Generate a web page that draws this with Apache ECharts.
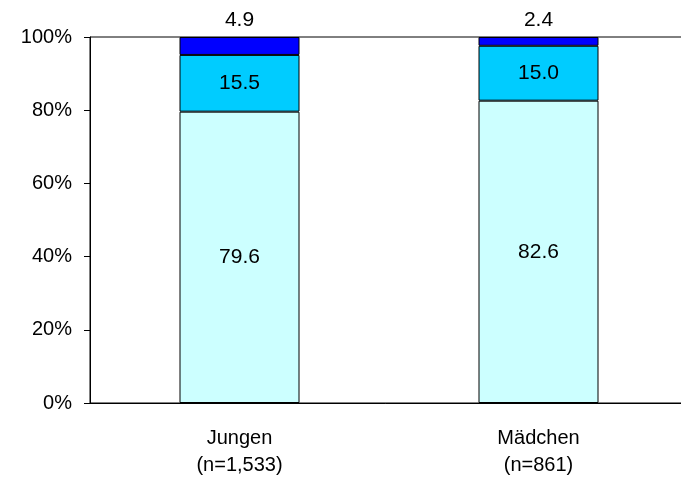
<!DOCTYPE html>
<html>
<head>
<meta charset="utf-8">
<script src="https://cdn.jsdelivr.net/npm/echarts@6/dist/echarts.min.js"></script>
<style>
  html, body { margin: 0; padding: 0; background: #fff; }
  #chart { width: 681px; height: 479px; }
</style>
</head>
<body>
<div id="chart"></div>
<script>
// Categories and stacked shares (percent)
const categories = ['Jungen\n(n=1,533)', 'Mädchen\n(n=861)'];
const lowShare = [79.6, 82.6];
const midShare = [15.5, 15.0];
const topShare = [4.9, 2.4];
const yTicks = [0, 20, 40, 60, 80, 100];

const font = '"Liberation Sans", Arial, sans-serif';
const chart = echarts.init(document.getElementById('chart'), null, { renderer: 'canvas' });

function seg(name, data, color, labelPos) {
  return {
    name: name,
    type: 'bar',
    stack: 'total',
    data: data,
    barWidth: 120,
    itemStyle: { color: color, borderColor: '#000', borderWidth: 1 },
    label: {
      show: true,
      position: labelPos,
      distance: 6,
      color: '#000',
      fontFamily: font,
      fontSize: 21,
      formatter: p => p.value.toFixed(1)
    },
    emphasis: { disabled: true }
  };
}

chart.setOption({
  animation: false,
  // plot frame runs past the right edge of the canvas
  grid: {
    left: 90, top: 37, width: 598, height: 366,
    outerBoundsMode: 'none',
    containLabel: false,
    show: true, borderColor: '#000', borderWidth: 1, backgroundColor: 'transparent'
  },
  xAxis: {
    type: 'category',
    data: categories,
    axisLine: { show: true, lineStyle: { color: '#000', width: 1 } },
    axisTick: { show: false },
    axisLabel: {
      color: '#000', fontFamily: font, fontSize: 20, lineHeight: 27, margin: 22
    }
  },
  yAxis: {
    type: 'value',
    min: yTicks[0],
    max: yTicks[yTicks.length - 1],
    interval: 20,
    axisLine: { show: true, lineStyle: { color: '#000', width: 1 } },
    axisTick: { show: true, length: 6, lineStyle: { color: '#000' } },
    splitLine: { show: false },
    axisLabel: {
      color: '#000', fontFamily: font, fontSize: 20, margin: 18,
      formatter: v => v + '%'
    }
  },
  series: [
    seg('low', lowShare, '#CCFFFF', 'inside'),
    seg('mid', midShare, '#00CCFF', 'inside'),
    seg('top', topShare, '#0000FF', 'top')
  ]
});
</script>
</body>
</html>
